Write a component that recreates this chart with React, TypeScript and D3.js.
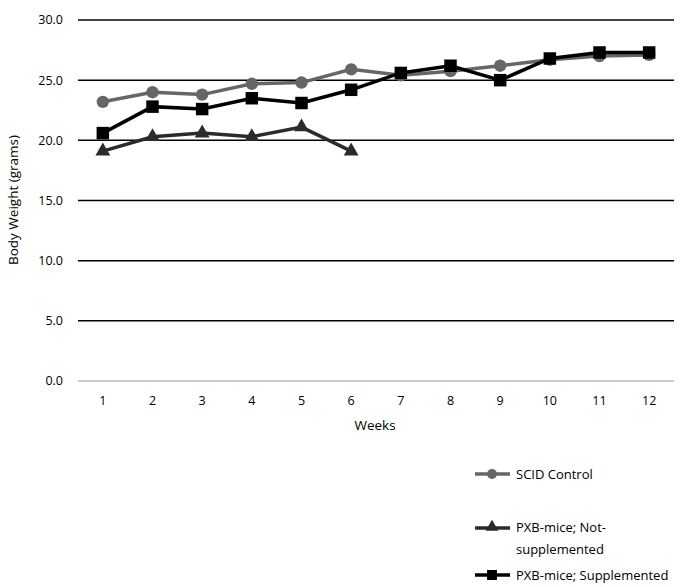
import React from "react";
import * as d3 from "d3";

const weeks = ["1", "2", "3", "4", "5", "6", "7", "8", "9", "10", "11", "12"];
const yTicks = [0, 5, 10, 15, 20, 25, 30];
const scidControl = [23.2, 24.0, 23.8, 24.7, 24.8, 25.9, 25.4, 25.75, 26.2, 26.7, 27.0, 27.1];
const pxbNotSupp = [19.1, 20.3, 20.6, 20.3, 21.1, 19.1];
const pxbSupp = [20.6, 22.8, 22.6, 23.5, 23.1, 24.2, 25.6, 26.2, 25.0, 26.8, 27.3, 27.3];

const FONT = "'Open Sans', 'Liberation Sans', sans-serif";

export default function App() {
  const W = 680, H = 587;
  const left = 78, right = 674, top = 20, bottom = 381;
  const x = d3.scaleBand().domain(weeks).range([left, right]);
  const y = d3.scaleLinear().domain([0, 30]).range([bottom, top]);
  const cx = (i: number) => (x(weeks[i]) as number) + x.bandwidth() / 2;
  const line = d3.line<number>().x((_, i) => cx(i)).y((d) => y(d));
  const tri = d3.symbol().type(d3.symbolTriangle).size(95)();
  const triL = d3.symbol().type(d3.symbolTriangle).size(70)();
  const sq = (s: number) => `M${-s / 2},${-s / 2}h${s}v${s}h${-s}Z`;

  return (
    <svg width={W} height={H} style={{ position: "absolute", left: 0, top: 0, background: "#fff" }}>
      {yTicks.map((t) => (
        <g key={t}>
          <line x1={left} x2={right} y1={y(t)} y2={y(t)} stroke={t === 0 ? "#9a9a9a" : "#000"} strokeWidth={t === 0 ? 1.2 : 1.5} />
          <text x={63} y={y(t)} dy="0.35em" textAnchor="end" fontFamily={FONT} fontSize={12.5} fill="#000">{t.toFixed(1)}</text>
        </g>
      ))}
      {weeks.map((w, i) => (
        <text key={w} x={cx(i)} y={401} dy="0.35em" textAnchor="middle" fontFamily={FONT} fontSize={12.5} fill="#000">{w}</text>
      ))}
      <text x={375} y={425} dy="0.35em" textAnchor="middle" fontFamily={FONT} fontSize={13.5} fill="#000">Weeks</text>
      <text transform="translate(13,200) rotate(-90)" dy="0.35em" textAnchor="middle" fontFamily={FONT} fontSize={13.5} fill="#000">Body Weight (grams)</text>

      <path d={line(scidControl) || ""} fill="none" stroke="#666" strokeWidth={3.5} />
      {scidControl.map((v, i) => <circle key={i} cx={cx(i)} cy={y(v)} r={6.2} fill="#666" />)}

      <path d={line(pxbNotSupp) || ""} fill="none" stroke="#2b2b2b" strokeWidth={3.5} />
      {pxbNotSupp.map((v, i) => <path key={i} d={tri} transform={`translate(${cx(i)},${y(v)})`} fill="#2b2b2b" />)}

      <path d={line(pxbSupp) || ""} fill="none" stroke="#000" strokeWidth={3.5} />
      {pxbSupp.map((v, i) => <path key={i} d={sq(12.5)} transform={`translate(${cx(i)},${y(v)})`} fill="#000" />)}

      <g fontFamily={FONT} fontSize={13} fill="#000">
        <line x1={475} x2={510} y1={474} y2={474} stroke="#666" strokeWidth={3.5} />
        <circle cx={492} cy={474} r={5} fill="#666" />
        <text x={516} y={474} dy="0.35em">SCID Control</text>

        <line x1={475} x2={510} y1={528} y2={528} stroke="#2b2b2b" strokeWidth={3.5} />
        <path d={triL} transform="translate(492,527)" fill="#2b2b2b" />
        <text x={516} y={527} dy="0.35em">PXB-mice; Not-</text>
        <text x={516} y={549} dy="0.35em">supplemented</text>

        <line x1={475} x2={510} y1={575} y2={575} stroke="#000" strokeWidth={3.5} />
        <path d={sq(10)} transform="translate(492,575)" fill="#000" />
        <text x={516} y={575} dy="0.35em">PXB-mice; Supplemented</text>
      </g>
    </svg>
  );
}
